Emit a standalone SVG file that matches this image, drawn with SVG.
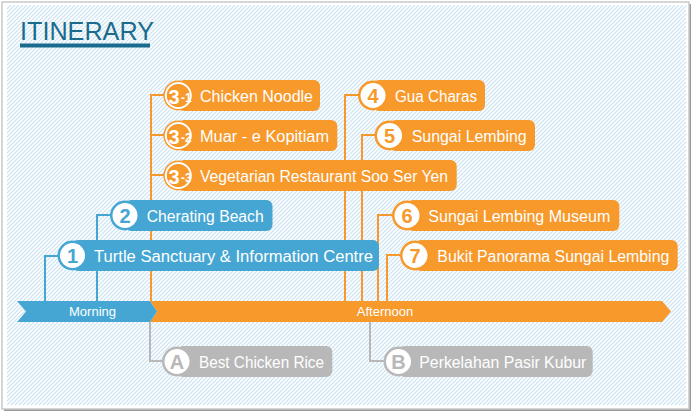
<svg xmlns="http://www.w3.org/2000/svg" width="696" height="415" viewBox="0 0 696 415">
<defs>
<pattern id="hatch" patternUnits="userSpaceOnUse" width="4" height="4">
<rect width="4" height="4" fill="#ffffff"/>
<path d="M-1,1 L1,-1 M0,4 L4,0 M3,5 L5,3" stroke="#c9e3f2" stroke-width="1.2"/>
</pattern>
<style>
.lbl{font-family:"Liberation Sans",Arial,sans-serif;font-size:16px;fill:#ffffff}
.num{font-family:"Liberation Sans",Arial,sans-serif;font-size:20px;font-weight:bold;text-anchor:middle}
.sub{font-family:"Liberation Sans",Arial,sans-serif;font-size:12px;font-weight:bold;fill:#ffffff}
.bar{font-family:"Liberation Sans",Arial,sans-serif;font-size:13px;fill:#ffffff;text-anchor:middle}
.blue{fill:#46a6d3}
.orange{fill:#f7992b}
.gray{fill:#b8b8b8}
.tb{fill:#46a6d3}
.to{fill:#f7992b}
.tg{fill:#b8b8b8}
.ln{fill:none;stroke-width:2}
</style>
</defs>
<rect x="4" y="4" width="687" height="407" fill="#9a9a9a"/>
<rect x="2" y="2" width="687" height="407" fill="#ffffff" stroke="#c9c9c9" stroke-width="1.5"/>
<rect x="7" y="5" width="679" height="400" fill="url(#hatch)"/>
<g id="title">
<text x="20" y="40" font-family="Liberation Sans,Arial,sans-serif" font-size="26" fill="#1b6b8c" textLength="134" lengthAdjust="spacingAndGlyphs">ITINERARY</text>
<rect x="20" y="43.5" width="130" height="4" fill="#1b6b8c"/>
</g>
<g id="connectors">
<path class="ln" stroke="#46a6d3" d="M45,301 V256 H60 M97,301 V215 H112"/>
<path class="ln" stroke="#f7992b" d="M151,301 V95 H164 M151,135 H164 M151,175 H164 M345,301 V95 H359 M362,301 V135 H376 M378,301 V215 H393 M387,301 V255 H401"/>
<path class="ln" stroke="#b8b8b8" d="M150,322 V361 H163 M370,322 V361 H384"/>
</g>
<g id="timeline">
<polygon class="orange" points="150,301 662,301 671,311.5 662,322 150,322 157,311.5"/>
<polygon class="blue" points="17,301 150,301 157,311.5 150,322 17,322 26,311.5"/>
<text class="bar" x="92.5" y="316">Morning</text>
<text class="bar" x="385" y="316">Afternoon</text>
</g>
<g id="node1">
<rect class="blue" x="72" y="240" width="307" height="31" rx="6"/>
<circle class="blue" cx="72.5" cy="255.5" r="15"/>
<circle cx="72.5" cy="255.5" r="12.5" fill="#fff"/>
<text class="num tb" x="72.5" y="262.5">1</text>
<text class="lbl" x="94" y="261.5" textLength="279" lengthAdjust="spacingAndGlyphs">Turtle Sanctuary &amp; Information Centre</text>
</g>
<g id="node2">
<rect class="blue" x="125" y="200" width="147.5" height="31" rx="6"/>
<circle class="blue" cx="125" cy="215.5" r="15"/>
<circle cx="125" cy="215.5" r="12.5" fill="#fff"/>
<text class="num tb" x="125" y="222.5">2</text>
<text class="lbl" x="146.7" y="221.5" textLength="117" lengthAdjust="spacingAndGlyphs">Cherating Beach</text>
</g>
<g id="node3-1">
<rect class="orange" x="178" y="80" width="142" height="31" rx="6"/>
<circle class="orange" cx="178.3" cy="95.5" r="15"/>
<circle cx="178.3" cy="95.5" r="12.5" fill="#f7992b" stroke="#fff" stroke-width="2"/>
<text class="num" fill="#fff" x="174" y="103.5" font-size="23">3</text>
<text class="sub" x="181" y="102">-1</text>
<text class="lbl" x="200" y="101.5" textLength="113" lengthAdjust="spacingAndGlyphs">Chicken Noodle</text>
</g>
<g id="node3-2">
<rect class="orange" x="178" y="120" width="159.3" height="31" rx="6"/>
<circle class="orange" cx="178.3" cy="135.5" r="15"/>
<circle cx="178.3" cy="135.5" r="12.5" fill="#f7992b" stroke="#fff" stroke-width="2"/>
<text class="num" fill="#fff" x="174" y="143.5" font-size="23">3</text>
<text class="sub" x="181" y="142">-2</text>
<text class="lbl" x="200" y="141.5" textLength="129" lengthAdjust="spacingAndGlyphs">Muar - e Kopitiam</text>
</g>
<g id="node3-3">
<rect class="orange" x="178" y="160" width="278.7" height="31" rx="6"/>
<circle class="orange" cx="178.3" cy="175.5" r="15"/>
<circle cx="178.3" cy="175.5" r="12.5" fill="#f7992b" stroke="#fff" stroke-width="2"/>
<text class="num" fill="#fff" x="174" y="183.5" font-size="23">3</text>
<text class="sub" x="181" y="182">-3</text>
<text class="lbl" x="200" y="181.5" textLength="248" lengthAdjust="spacingAndGlyphs">Vegetarian Restaurant Soo Ser Yen</text>
</g>
<g id="node4">
<rect class="orange" x="373" y="80" width="112" height="31" rx="6"/>
<circle class="orange" cx="373" cy="95.5" r="15"/>
<circle cx="373" cy="95.5" r="12.5" fill="#fff"/>
<text class="num to" x="373" y="102.5">4</text>
<text class="lbl" x="395" y="101.5" textLength="82" lengthAdjust="spacingAndGlyphs">Gua Charas</text>
</g>
<g id="node5">
<rect class="orange" x="389.5" y="120" width="145.5" height="31" rx="6"/>
<circle class="orange" cx="389.5" cy="135.5" r="15"/>
<circle cx="389.5" cy="135.5" r="12.5" fill="#fff"/>
<text class="num to" x="389.5" y="142.5">5</text>
<text class="lbl" x="411.7" y="141.5" textLength="115" lengthAdjust="spacingAndGlyphs">Sungai Lembing</text>
</g>
<g id="node6">
<rect class="orange" x="407" y="200" width="212.3" height="31" rx="6"/>
<circle class="orange" cx="407" cy="215.5" r="15"/>
<circle cx="407" cy="215.5" r="12.5" fill="#fff"/>
<text class="num to" x="407" y="222.5">6</text>
<text class="lbl" x="428.3" y="221.5" textLength="182" lengthAdjust="spacingAndGlyphs">Sungai Lembing Museum</text>
</g>
<g id="node7">
<rect class="orange" x="415" y="240" width="262.7" height="31" rx="6"/>
<circle class="orange" cx="415" cy="255.5" r="15"/>
<circle cx="415" cy="255.5" r="12.5" fill="#fff"/>
<text class="num to" x="415" y="262.5">7</text>
<text class="lbl" x="437.3" y="261.5" textLength="232" lengthAdjust="spacingAndGlyphs">Bukit Panorama Sungai Lembing</text>
</g>
<g id="nodeA">
<rect class="gray" x="177" y="346" width="155.3" height="31" rx="6"/>
<circle class="gray" cx="177" cy="361.5" r="15"/>
<circle cx="177" cy="361.5" r="12.5" fill="#fff"/>
<text class="num tg" x="177" y="368.5">A</text>
<text class="lbl" x="199" y="367.5" textLength="125" lengthAdjust="spacingAndGlyphs">Best Chicken Rice</text>
</g>
<g id="nodeB">
<rect class="gray" x="398.5" y="346" width="194.2" height="31" rx="6"/>
<circle class="gray" cx="398.5" cy="361.5" r="15"/>
<circle cx="398.5" cy="361.5" r="12.5" fill="#fff"/>
<text class="num tg" x="398.5" y="368.5">B</text>
<text class="lbl" x="419.3" y="367.5" textLength="167" lengthAdjust="spacingAndGlyphs">Perkelahan Pasir Kubur</text>
</g>
</svg>
